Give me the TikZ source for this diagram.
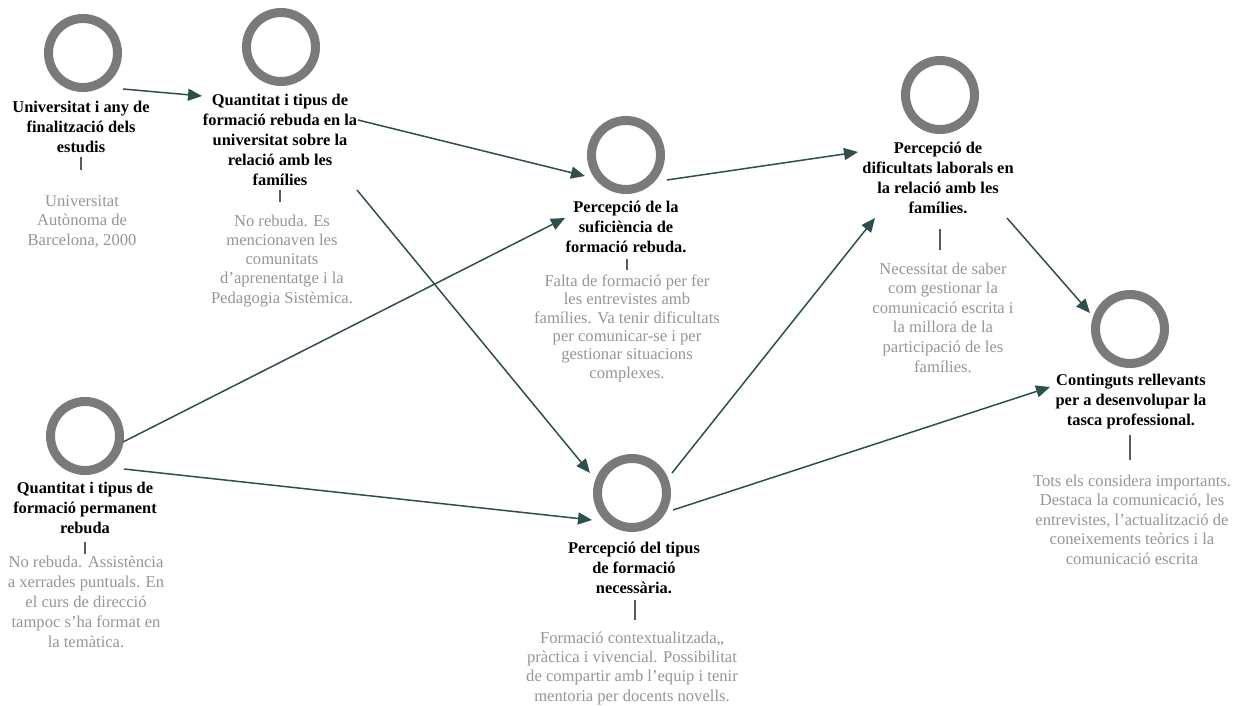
\documentclass[tikz,border=0pt]{standalone}
\usepackage{fontspec}
\setmainfont{Liberation Serif}
\usetikzlibrary{arrows.meta}
\definecolor{ringgray}{RGB}{122,122,122}
\definecolor{textgray}{RGB}{150,150,150}
\definecolor{arrowcol}{RGB}{47,79,79}
\definecolor{tickgray}{RGB}{90,90,90}
\begin{document}
\begin{tikzpicture}[x=1pt,y=-1pt,
 ring/.style={circle,draw=ringgray,line width=9pt,minimum size=69pt,inner sep=0pt},
 ttl/.style={anchor=base,align=center,inner sep=0pt,font=\fontsize{16.4}{20}\selectfont\bfseries},
 gnote/.style={anchor=base,align=center,inner sep=0pt,text=textgray,font=\fontsize{16.6}{19.2}\selectfont},
 conn/.style={draw=arrowcol,line width=1.5pt,-{Triangle[length=14pt,width=12pt]}},
 tickline/.style={draw=tickgray,line width=1.2pt}]
\useasboundingbox[fill=white] (0,0) rectangle (1235,705);
% rings
\node[ring] (c1) at (83,53) {};
\node[ring] (c2) at (281,47) {};
\node[ring] (c3) at (626,155) {};
\node[ring] (c4) at (940,95) {};
\node[ring] (c5) at (1130,329) {};
\node[ring] (c6) at (85,436) {};
\node[ring] (c7) at (632,493) {};
% titles (anchor = baseline of the last line)
\node[ttl] (t1) at (81,152) {Universitat i any de\\finalització dels\\estudis};
\node[ttl] (t2) at (280,185) {Quantitat i tipus de\\formació rebuda en la\\universitat sobre la\\relació amb les\\famílies};
\node[ttl] (t3) at (626,252) {Percepció de la\\suficiència de\\formació rebuda.};
\node[ttl] (t4) at (938,213) {Percepció de\\dificultats laborals en\\la relació amb les\\famílies.};
\node[ttl] (t5) at (1131,425) {Continguts rellevants\\per a desenvolupar la\\tasca professional.};
\node[ttl] (t6) at (85,533) {Quantitat i tipus de\\formació permanent\\rebuda};
\node[ttl] (t7) at (634,593) {Percepció del tipus\\de formació\\necessària.};
% notes (anchor = baseline of the last line)
\node[gnote] (g1) at (82,245) {Universitat\\Autònoma de\\Barcelona, 2000};
\node[gnote] (g2) at (282,303) {No rebuda. Es\\mencionaven les\\comunitats\\d'aprenentatge i la\\Pedagogia Sistèmica.};
\node[gnote,font=\fontsize{16.6}{18.3}\selectfont] (g3) at (627,378) {Falta de formació per fer\\les entrevistes amb\\famílies. Va tenir dificultats\\per comunicar-se i per\\gestionar situacions\\complexes.};
\node[gnote,font=\fontsize{16.6}{19.6}\selectfont] (g4) at (943,372) {Necessitat de saber\\com gestionar la\\comunicació escrita i\\la millora de la\\participació de les\\famílies.};
\node[gnote,font=\fontsize{16.6}{19.5}\selectfont] (g5) at (1132,564) {Tots els considera importants.\\Destaca la comunicació, les\\entrevistes, l'actualització de\\coneixements teòrics i la\\comunicació escrita};
\node[gnote,font=\fontsize{16.6}{20}\selectfont] (g6) at (86,647) {No rebuda. Assistència\\a xerrades puntuals. En\\el curs de direcció\\tampoc s'ha format en\\la temàtica.};
\node[gnote] (g7) at (632,701) {Formació contextualitzada,,\\pràctica i vivencial. Possibilitat\\de compartir amb l'equip i tenir\\mentoria per docents novells.};
% ticks
\coordinate (k1a) at (81,157); \coordinate (k1b) at (81,170);
\coordinate (k2a) at (280,190); \coordinate (k2b) at (280,202);
\coordinate (k3a) at (627,259); \coordinate (k3b) at (627,270);
\coordinate (k4a) at (940,229); \coordinate (k4b) at (940,250);
\coordinate (k5a) at (1130,435); \coordinate (k5b) at (1130,460);
\coordinate (k6a) at (85,542); \coordinate (k6b) at (85,554);
\coordinate (k7a) at (635,600); \coordinate (k7b) at (635,620);
\foreach \i in {1,...,7} {\draw[tickline] (k\i a) -- (k\i b);}
% connectors
\coordinate (a1s) at (123,89);  \coordinate (a1e) at (202,96);
\coordinate (a2s) at (358,120); \coordinate (a2e) at (585,176);
\coordinate (a3s) at (357,190); \coordinate (a3e) at (590,473);
\coordinate (a4s) at (123,442); \coordinate (a4e) at (565,218);
\coordinate (a5s) at (124,469); \coordinate (a5e) at (592,520);
\coordinate (a6s) at (667,180); \coordinate (a6e) at (858,152);
\coordinate (a7s) at (672,473); \coordinate (a7e) at (875,218);
\coordinate (a8s) at (1007,218);\coordinate (a8e) at (1090,313);
\coordinate (a9s) at (673,510); \coordinate (a9e) at (1050,387);
\foreach \i in {1,...,9} {\draw[conn] (a\i s) -- (a\i e);}
\end{tikzpicture}
\end{document}
